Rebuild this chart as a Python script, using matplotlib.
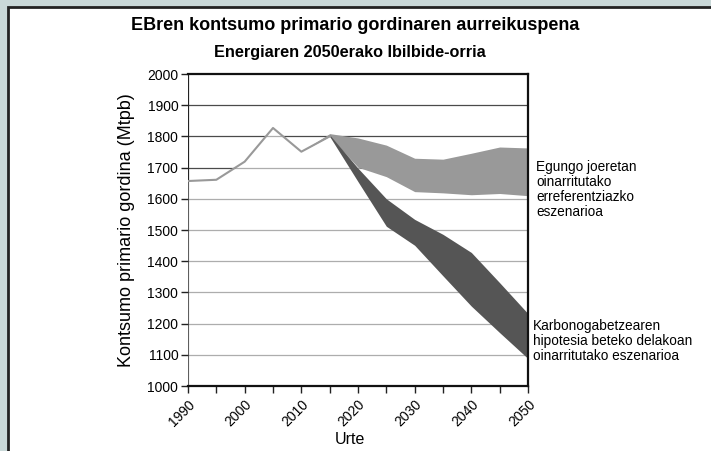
"""EBren kontsumo primario gordinaren aurreikuspena - band chart"""
import matplotlib
matplotlib.use('Agg')
import matplotlib.pyplot as plt
from matplotlib.patches import Rectangle

plt.rcParams['font.family'] = ['Liberation Sans', 'DejaVu Sans']

# historical consumption (Mtpb)
hist_years = [1990, 1995, 2000, 2005, 2010, 2015]
hist_values = [1657, 1661, 1719, 1827, 1751, 1800]

# reference scenario band
ref_years = [2010, 2015, 2020, 2025, 2030, 2035, 2040, 2045, 2050]
ref_upper = [1752, 1809, 1795, 1772, 1730, 1727, 1746, 1766, 1763]
ref_lower = [1752, 1800, 1701, 1671, 1623, 1619, 1613, 1617, 1610]

# decarbonisation scenario band
dec_years = [2015, 2020, 2025, 2030, 2035, 2040, 2045, 2050]
dec_upper = [1805, 1698, 1600, 1534, 1486, 1428, 1331, 1232]
dec_lower = [1800, 1655, 1512, 1451, 1353, 1256, 1171, 1088]

x_ticks = [1990, 2000, 2010, 2020, 2030, 2040, 2050]
y_ticks = [1000, 1100, 1200, 1300, 1400, 1500, 1600, 1700, 1800, 1900, 2000]

fig = plt.figure(figsize=(7.11, 4.51), dpi=100, facecolor='#c9d8d8')
# white panel with dark frame
fig.patches.append(Rectangle((8 / 711, -0.1), 1.1, 1.1 - 8 / 451 + 0.002,
                             transform=fig.transFigure, facecolor='white',
                             edgecolor='#222222', linewidth=2, zorder=-5))

ax = fig.add_axes([188 / 711, 65 / 451, 340 / 711, 312 / 451])
ax.set_zorder(2)
ax.set_facecolor('none')

for y in y_ticks[1:-1]:
    ax.axhline(y, color='#4a4a4a', linewidth=0.9, zorder=0.3)
ax.axvline(1990, color='#222222', linewidth=1.6, zorder=0.4)

# whitish wash below the curves (lightens the gridlines there)
env_years = hist_years + ref_years[2:]
env_values = hist_values + ref_lower[2:]
ax.fill_between(env_years, 1000, env_values, color='white', alpha=0.55,
                linewidth=0, zorder=1)

ax.fill_between(ref_years, ref_lower, ref_upper, color='#999999',
                linewidth=0, zorder=2)
ax.fill_between(dec_years, dec_lower, dec_upper, color='#555555',
                linewidth=0, zorder=3)
ax.plot(hist_years, hist_values, color='#999999', linewidth=1.5, zorder=4)

ax.set_xlim(1990, 2050)
ax.set_ylim(1000, 2000)
ax.set_xticks(x_ticks)
ax.set_xticks(range(1995, 2050, 10), minor=True)
ax.set_yticks(y_ticks)
ax.set_xticklabels([str(v) for v in x_ticks], rotation=45, ha='right',
                   va='top', rotation_mode='anchor', fontsize=10)
ax.set_yticklabels([str(v) for v in y_ticks], fontsize=10)
ax.tick_params(axis='both', which='both', length=5, width=1, color='#222222')
ax.tick_params(axis='x', pad=3)
ax.tick_params(axis='y', pad=2)

ax.spines['left'].set_visible(False)
for side in ['right', 'top', 'bottom']:
    ax.spines[side].set_color('#111111')
    ax.spines[side].set_linewidth(1.6)
    ax.spines[side].set_zorder(5)

ax.set_ylabel('Kontsumo primario gordina (Mtpb)', fontsize=13, labelpad=9)
ax.set_xlabel('Urte', fontsize=11.5)
ax.xaxis.set_label_coords(0.476, -0.148)

fig.text(0.5, 1 - 25 / 451, 'EBren kontsumo primario gordinaren aurreikuspena',
         ha='center', va='center', fontsize=13, fontweight='bold')
fig.text(350 / 711, 1 - 53 / 451, 'Energiaren 2050erako Ibilbide-orria',
         ha='center', va='center', fontsize=11.7, fontweight='bold')

fig.text(536 / 711, 1 - 160 / 451,
         'Egungo joeretan\noinarritutako\nerreferentziazko\neszenarioa',
         ha='left', va='top', fontsize=9.8, linespacing=1.1)
fig.text(533 / 711, 1 - 319 / 451,
         'Karbonogabetzearen\nhipotesia beteko delakoan\noinarritutako eszenarioa',
         ha='left', va='top', fontsize=9.8, linespacing=1.1)

fig.savefig('out.png', dpi=100, facecolor=fig.get_facecolor())
